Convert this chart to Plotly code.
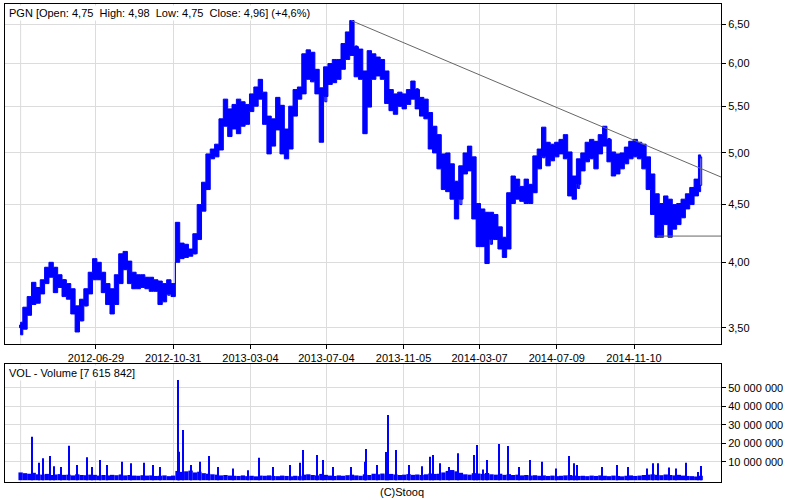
import pandas as pd
import plotly.graph_objects as go

# ---------------- data (weekly candles) ----------------
week_start = "2012-02-29"
n_weeks = 157

low = [3.45, 3.49, 3.59, 3.67, 3.68, 3.75, 3.83, 3.88, 3.76, 3.80,
       3.73, 3.71, 3.60, 3.47, 3.55, 3.66, 3.75, 3.86, 3.86, 3.76,
       3.67, 3.60, 3.67, 3.83, 3.94, 3.83, 3.79, 3.79, 3.80, 3.79,
       3.77, 3.77, 3.67, 3.69, 3.75, 3.73, 4.00, 4.03, 4.04, 4.05,
       4.07, 4.19, 4.44, 4.64, 4.94, 4.96, 5.03, 5.28, 5.17, 5.25,
       5.20, 5.28, 5.30, 5.44, 5.50, 5.58, 5.30, 4.99, 5.07, 5.24,
       4.99, 4.94, 5.04, 5.39, 5.58, 5.64, 5.81, 5.78, 5.64, 5.11,
       5.61, 5.75, 5.77, 5.81, 5.93, 6.05, 6.10, 5.84, 5.81, 5.20,
       5.49, 5.81, 5.85, 5.81, 5.53, 5.45, 5.41, 5.50, 5.47, 5.52,
       5.58, 5.47, 5.39, 5.36, 5.04, 5.00, 4.84, 4.64, 4.62, 4.55,
       4.37, 4.55, 4.79, 4.82, 4.37, 4.13, 4.13, 3.99, 4.19, 4.19,
       4.11, 4.04, 4.11, 4.51, 4.55, 4.53, 4.51, 4.51, 4.61, 4.84,
       4.96, 4.87, 4.92, 4.96, 4.99, 4.94, 4.58, 4.55, 4.69, 4.82,
       4.91, 4.94, 4.84, 4.99, 5.07, 4.91, 4.77, 4.79, 4.84, 4.89,
       4.94, 4.96, 4.94, 4.84, 4.64, 4.41, 4.21, 4.21, 4.32, 4.21,
       4.28, 4.32, 4.38, 4.46, 4.50, 4.58, 4.62]
high = [3.54, 3.65, 3.73, 3.84, 3.80, 3.86, 3.96, 4.00, 3.96, 3.90,
        3.86, 3.83, 3.79, 3.66, 3.71, 3.79, 3.92, 4.03, 4.00, 3.92,
        3.83, 3.79, 3.90, 4.07, 4.09, 4.01, 3.92, 3.90, 3.90, 3.88,
        3.88, 3.86, 3.85, 3.83, 3.86, 3.83, 4.34, 4.16, 4.15, 4.11,
        4.24, 4.50, 4.71, 4.99, 5.04, 5.09, 5.36, 5.58, 5.47, 5.52,
        5.58, 5.55, 5.52, 5.64, 5.72, 5.81, 5.66, 5.39, 5.36, 5.60,
        5.51, 5.25, 5.50, 5.69, 5.72, 6.12, 6.17, 6.14, 5.93, 5.71,
        5.96, 6.00, 6.05, 6.05, 6.25, 6.40, 6.55, 6.21, 6.18, 5.91,
        6.16, 6.12, 6.08, 6.05, 5.91, 5.69, 5.64, 5.66, 5.64, 5.69,
        5.79, 5.69, 5.60, 5.58, 5.43, 5.28, 5.19, 4.99, 5.00, 4.89,
        4.72, 4.87, 5.00, 5.07, 4.96, 4.51, 4.46, 4.43, 4.43, 4.41,
        4.30, 4.21, 4.61, 4.77, 4.74, 4.67, 4.74, 4.69, 4.97, 5.04,
        5.27, 5.11, 5.09, 5.11, 5.14, 5.19, 5.01, 4.77, 4.94, 5.00,
        5.11, 5.14, 5.12, 5.19, 5.28, 5.14, 5.01, 4.99, 5.00, 5.06,
        5.12, 5.14, 5.11, 5.09, 4.96, 4.79, 4.60, 4.51, 4.58, 4.55,
        4.50, 4.51, 4.55, 4.60, 4.66, 4.74, 4.98]
close = [3.50, 3.60, 3.70, 3.72, 3.76, 3.84, 3.92, 3.95, 3.88, 3.86,
         3.78, 3.74, 3.64, 3.55, 3.66, 3.76, 3.88, 3.96, 3.90, 3.82,
         3.72, 3.68, 3.84, 4.02, 3.98, 3.88, 3.86, 3.84, 3.86, 3.84,
         3.82, 3.82, 3.78, 3.74, 3.80, 3.78, 4.06, 4.08, 4.10, 4.07,
         4.20, 4.45, 4.65, 4.95, 4.98, 5.04, 5.30, 5.45, 5.35, 5.40,
         5.35, 5.42, 5.45, 5.56, 5.62, 5.65, 5.38, 5.10, 5.25, 5.50,
         5.10, 5.05, 5.40, 5.62, 5.65, 6.00, 5.95, 5.90, 5.70, 5.55,
         5.85, 5.90, 5.95, 5.98, 6.15, 6.30, 6.22, 5.95, 5.90, 5.50,
         6.05, 5.95, 5.98, 5.90, 5.60, 5.55, 5.50, 5.58, 5.55, 5.62,
         5.70, 5.55, 5.48, 5.42, 5.15, 5.18, 4.95, 4.75, 4.80, 4.65,
         4.50, 4.80, 4.90, 4.95, 4.45, 4.30, 4.25, 4.15, 4.30, 4.25,
         4.20, 4.12, 4.55, 4.65, 4.62, 4.58, 4.60, 4.62, 4.90, 4.95,
         5.05, 5.00, 5.02, 5.05, 5.08, 5.00, 4.70, 4.65, 4.85, 4.92,
         5.02, 5.05, 5.00, 5.10, 5.15, 5.00, 4.85, 4.88, 4.92, 4.98,
         5.05, 5.08, 5.02, 4.95, 4.72, 4.55, 4.35, 4.40, 4.45, 4.30,
         4.35, 4.42, 4.48, 4.52, 4.60, 4.68, 4.96]
open_ = [3.52, 3.50, 3.60, 3.70, 3.72, 3.76, 3.84, 3.92, 3.95, 3.88,
         3.86, 3.78, 3.74, 3.64, 3.55, 3.66, 3.76, 3.88, 3.96, 3.90,
         3.82, 3.72, 3.68, 3.84, 4.02, 3.98, 3.88, 3.86, 3.84, 3.86,
         3.84, 3.82, 3.82, 3.78, 3.74, 3.80, 4.05, 4.06, 4.08, 4.10,
         4.07, 4.20, 4.45, 4.65, 4.95, 4.98, 5.04, 5.30, 5.45, 5.35,
         5.40, 5.35, 5.42, 5.45, 5.56, 5.62, 5.65, 5.38, 5.10, 5.25,
         5.50, 5.10, 5.05, 5.40, 5.62, 5.65, 6.00, 5.95, 5.90, 5.70,
         5.55, 5.85, 5.90, 5.95, 5.98, 6.15, 6.30, 6.22, 5.95, 5.90,
         5.50, 6.05, 5.95, 5.98, 5.90, 5.60, 5.55, 5.50, 5.58, 5.55,
         5.62, 5.70, 5.55, 5.48, 5.42, 5.15, 5.18, 4.95, 4.75, 4.80,
         4.65, 4.50, 4.80, 4.90, 4.95, 4.45, 4.30, 4.25, 4.15, 4.30,
         4.25, 4.20, 4.12, 4.55, 4.65, 4.62, 4.58, 4.60, 4.62, 4.90,
         4.95, 5.05, 5.00, 5.02, 5.05, 5.08, 5.00, 4.70, 4.65, 4.85,
         4.92, 5.02, 5.05, 5.00, 5.10, 5.15, 5.00, 4.85, 4.88, 4.92,
         4.98, 5.05, 5.08, 5.02, 4.95, 4.72, 4.55, 4.35, 4.40, 4.45,
         4.30, 4.35, 4.42, 4.48, 4.52, 4.60, 4.68]

# weekly typical daily volume level (millions)
vol_base = [4.2, 3.8, 3.5, 4.0, 3.2, 3.0, 3.4, 2.8, 3.1, 3.3,
            2.9, 3.0, 2.6, 3.2, 2.8, 2.7, 3.0, 2.9, 2.5, 2.8,
            2.6, 2.9, 2.7, 3.1, 2.6, 2.8, 2.5, 2.4, 2.7, 2.5,
            2.6, 2.3, 2.4, 2.6, 2.2, 2.5,
            5.0, 4.5, 4.8, 5.2, 4.2, 4.6, 3.8, 3.5, 3.2, 3.0,
            2.6, 2.8, 2.5, 2.4, 2.3, 2.6, 2.2, 2.4, 2.1, 2.5,
            2.4, 2.6, 2.3, 2.2, 2.5, 2.3, 2.1, 2.4, 2.2,
            3.0, 3.2, 2.8, 2.6, 3.4, 2.9, 2.5, 2.3, 2.6, 2.4, 2.7, 3.0, 2.6, 2.4, 3.2, 2.8,
            3.5, 3.2, 3.6, 3.0, 3.4, 3.1, 2.8, 3.0, 3.3, 2.9, 3.1, 2.8, 3.2, 3.6, 3.4,
            3.5, 4.2, 5.0, 5.5, 4.8, 4.0, 3.2, 3.0, 3.8,
            3.6, 3.4, 3.9, 3.2, 3.0, 3.5, 2.9, 3.3, 2.8, 3.0, 2.6, 2.8, 2.5,
            2.7, 2.4, 2.6, 2.3, 2.5, 2.2, 2.4, 2.6, 2.8, 2.5,
            2.3, 2.4, 2.2, 2.5, 2.3, 2.6, 2.4, 2.2, 2.5, 2.3,
            2.1, 2.4, 2.6, 2.3, 2.5, 2.8, 3.0, 3.2, 2.9, 2.7,
            3.1, 2.8, 2.6, 2.9, 2.5, 2.3, 2.2, 2.0, 2.4]

# single-session volume spikes (date, millions)
spike_dates = ["2012-03-19", "2012-03-29", "2012-04-05", "2012-04-16", "2012-04-23",
               "2012-05-04", "2012-05-16", "2012-05-29", "2012-06-15", "2012-06-22",
               "2012-07-05", "2012-07-16", "2012-08-10", "2012-08-24", "2012-09-14",
               "2012-09-28", "2012-10-10", "2012-11-07", "2012-11-09", "2012-11-16",
               "2012-11-29", "2012-12-13", "2012-12-27", "2013-01-11", "2013-02-04",
               "2013-02-28", "2013-03-18", "2013-04-09", "2013-05-07", "2013-05-23",
               "2013-05-28", "2013-06-19", "2013-06-28", "2013-07-15", "2013-08-12",
               "2013-09-04", "2013-09-06", "2013-09-23", "2013-10-07", "2013-10-11",
               "2013-10-24", "2013-11-14", "2013-12-04", "2013-12-18", "2013-12-23",
               "2014-01-02", "2014-01-17", "2014-01-31", "2014-02-26", "2014-03-03",
               "2014-03-13", "2014-03-19", "2014-04-07", "2014-04-22", "2014-05-09",
               "2014-05-27", "2014-06-16", "2014-07-08", "2014-07-29", "2014-08-06",
               "2014-08-11", "2014-09-19", "2014-10-13", "2014-10-31", "2014-12-01",
               "2014-12-11", "2014-12-19", "2015-01-05", "2015-01-16", "2015-02-02",
               "2015-02-20", "2015-02-25"]
spike_vol = [23.5, 9.5, 11.8, 13.1, 7.6,
             7.2, 18.6, 8.2, 12.4, 7.2,
             10.9, 8.2, 10.0, 9.1, 9.5,
             8.2, 7.2, 54.2, 15.4, 27.1,
             8.2, 10.0, 13.1, 7.2, 6.3,
             5.4, 12.2, 7.2, 8.2, 9.5,
             16.3, 13.6, 10.9, 7.2, 7.2,
             10.0, 16.9, 8.2, 15.2, 35.2,
             16.3, 8.2, 7.6, 12.7, 13.6,
             9.1, 7.2, 14.5, 13.6, 19.0,
             5.8, 10.9, 19.6, 18.5, 7.2,
             10.9, 10.0, 6.3, 13.1, 9.1,
             8.2, 7.2, 8.2, 7.2, 6.3,
             9.1, 9.1, 6.8, 6.3, 9.5,
             4.5, 7.615842]

# trend / support lines (date, price)
trend_dates = ["2013-08-13", "2015-03-29 17:00"]
trend_price = [6.55, 4.76]
support_dates = ["2014-12-17", "2015-03-29 17:00"]
support_price = [4.22, 4.22]

grid_only_date = "2012-02-29"
tick_dates = ["2012-06-29", "2012-10-31", "2013-03-04", "2013-07-04",
              "2013-11-05", "2014-03-07", "2014-07-09", "2014-11-10"]
tick_labels = ["2012-06-29", "2012-10-31", "2013-03-04", "2013-07-04",
               "2013-11-05", "2014-03-07", "2014-07-09", "2014-11-10"]
price_ticks = [3.5, 4.0, 4.5, 5.0, 5.5, 6.0, 6.5]
price_labels = ["3,50", "4,00", "4,50", "5,00", "5,50", "6,00", "6,50"]
vol_ticks = [10e6, 20e6, 30e6, 40e6, 50e6]
vol_labels = ["10 000 000", "20 000 000", "30 000 000", "40 000 000", "50 000 000"]

for arr in (low, high, close, open_, vol_base):
    assert len(arr) == n_weeks, len(arr)
assert len(spike_dates) == len(spike_vol)

weeks = pd.date_range(week_start, periods=n_weeks, freq="7D")

BLUE = "#0000ff"
GRID = "#dcdcdc"
FONT = "Liberation Sans, Arial, sans-serif"
X_RANGE = ["2012-02-03 22:00", "2015-03-29 17:00"]

fig = go.Figure()

# weekly trading range (low..high) as a stepped band, as the dense daily bars look
fig.add_trace(go.Scatter(x=weeks, y=low, mode="lines", line=dict(color=BLUE, width=1, shape="hvh"),
                         xaxis="x", yaxis="y", showlegend=False, hoverinfo="skip"))
fig.add_trace(go.Scatter(x=weeks, y=high, mode="lines", line=dict(color=BLUE, width=1, shape="hvh"),
                         fill="tonexty", fillcolor=BLUE,
                         xaxis="x", yaxis="y", showlegend=False, hoverinfo="skip"))

fig.add_trace(go.Candlestick(
    x=weeks, open=open_, high=high, low=low, close=close,
    increasing=dict(line=dict(color=BLUE, width=1), fillcolor="white"),
    decreasing=dict(line=dict(color=BLUE, width=1), fillcolor=BLUE),
    whiskerwidth=0, xaxis="x", yaxis="y", showlegend=False, hoverinfo="skip"))

fig.add_trace(go.Scatter(x=trend_dates, y=trend_price, mode="lines",
                         line=dict(color="#666666", width=1), xaxis="x", yaxis="y",
                         showlegend=False, hoverinfo="skip"))
fig.add_trace(go.Scatter(x=support_dates, y=support_price, mode="lines",
                         line=dict(color="#666666", width=1), xaxis="x", yaxis="y",
                         showlegend=False, hoverinfo="skip"))

fig.add_trace(go.Bar(x=weeks, y=[v * 1e6 for v in vol_base],
                     width=7 * 86400000, marker=dict(color=BLUE, line=dict(width=0)),
                     xaxis="x2", yaxis="y2", showlegend=False, hoverinfo="skip"))
fig.add_trace(go.Bar(x=pd.to_datetime(spike_dates), y=[v * 1e6 for v in spike_vol],
                     width=1.6 * 86400000, marker=dict(color=BLUE, line=dict(width=0)),
                     xaxis="x2", yaxis="y2", showlegend=False, hoverinfo="skip"))

W, H = 800, 500
xd = [5 / W, 721 / W]
axis_common = dict(showline=True, linecolor="black", linewidth=1, mirror=True,
                   gridcolor=GRID, gridwidth=1, zeroline=False,
                   tickfont=dict(family=FONT, size=11, color="black"),
                   tickcolor="black", ticklen=4, tickwidth=1)

# unlabelled vertical grid line at the first session (no tick mark there)
grid_shapes = [
    dict(type="line", xref=xr, yref=yr + " domain", x0=grid_only_date, x1=grid_only_date,
         y0=0, y1=1, line=dict(color=GRID, width=1), layer="below")
    for xr, yr in (("x", "y"), ("x2", "y2"))
]

fig.update_layout(
    width=W, height=H,
    margin=dict(l=0, r=0, t=0, b=0),
    paper_bgcolor="white", plot_bgcolor="white",
    font=dict(family=FONT, size=11, color="black"),
    barmode="overlay",
    shapes=grid_shapes,
    xaxis=dict(domain=xd, type="date", range=X_RANGE, anchor="y",
               tickvals=tick_dates, ticktext=tick_labels, ticks="outside",
               rangeslider=dict(visible=False), **axis_common),
    yaxis=dict(domain=[1 - 344 / H, 1 - 4 / H], type="log",
               range=[0.52969, 0.83091], side="right", anchor="x",
               tickvals=price_ticks, ticktext=price_labels, ticks="outside",
               **axis_common),
    xaxis2=dict(domain=xd, type="date", range=X_RANGE, anchor="y2", matches="x",
                tickvals=tick_dates, showticklabels=False, ticks="",
                **{k: v for k, v in axis_common.items() if k not in ("ticklen",)}),
    yaxis2=dict(domain=[1 - 482 / H, 1 - 364 / H], range=[-0.97e6, 62.8e6],
                side="right", anchor="x2", tickvals=vol_ticks, ticktext=vol_labels,
                ticks="outside", **axis_common),
    annotations=[
        dict(text="PGN [Open: 4,75\u00a0 High: 4,98\u00a0 Low: 4,75\u00a0 Close: 4,96] (+4,6%)",
             xref="paper", yref="paper", x=7 / W, y=1 - 13 / H, xanchor="left",
             yanchor="middle", showarrow=False, bgcolor="white", borderpad=1,
             font=dict(family=FONT, size=11, color="black")),
        dict(text="VOL - Volume [7 615 842]",
             xref="paper", yref="paper", x=7 / W, y=1 - 373 / H, xanchor="left",
             yanchor="middle", showarrow=False, bgcolor="white", borderpad=1,
             font=dict(family=FONT, size=11, color="black")),
        dict(text="(C)Stooq", xref="paper", yref="paper", x=402 / W, y=1 - 492 / H,
             xanchor="center", yanchor="middle", showarrow=False,
             font=dict(family=FONT, size=11, color="black")),
    ],
)

fig.write_html("out.html")
